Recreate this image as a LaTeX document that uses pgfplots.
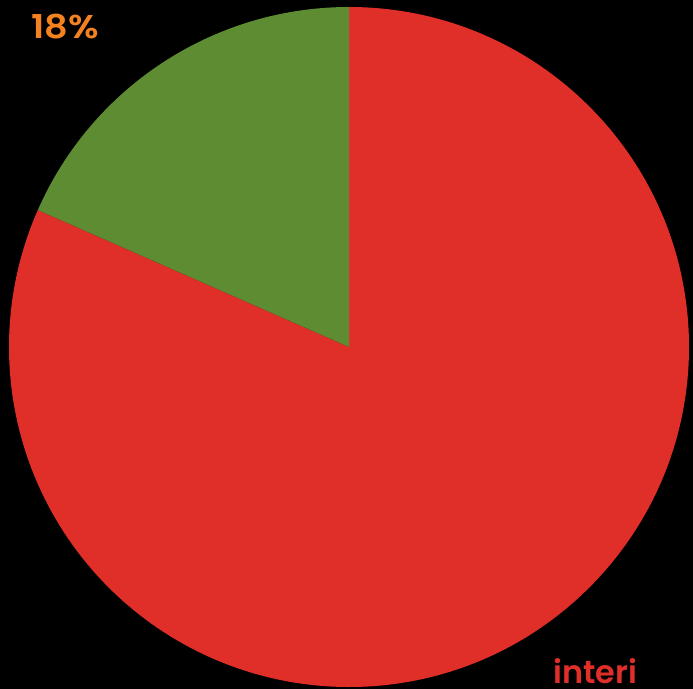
\documentclass[border=0pt]{standalone}
\usepackage{pgfplots}
\pgfplotsset{compat=1.18}
\usepackage{fontspec}
\setmainfont{Poppins}[BoldFont={* SemiBold}]
\definecolor{pieRed}{HTML}{E02F29}
\definecolor{pieGreen}{HTML}{5E8C33}
\definecolor{lblOrange}{HTML}{F58220}

% shares in percent
\def\shareA{18.4}  % green, labelled 18%
\def\shareB{81.6}  % red

\begin{document}
\begin{tikzpicture}
\begin{axis}[x=1bp,y=1bp,xmin=0,xmax=693,ymin=0,ymax=689,
  hide axis,clip=false,scale only axis]
\fill[black] (axis cs:0,0) rectangle (axis cs:693,689);
\pgfmathsetmacro{\angA}{90+\shareA*3.6}
\fill[pieRed] (axis cs:349,342) -- (axis cs:349,682)
  arc[start angle=90,end angle=\angA-360,radius=340bp] -- cycle;
\fill[pieGreen] (axis cs:349,342) -- (axis cs:349,682)
  arc[start angle=90,end angle=\angA,radius=340bp] -- cycle;
\node[anchor=base west,text=lblOrange,font=\bfseries\fontsize{33}{33}\selectfont,
  inner sep=0pt] at (axis cs:31,650) {\scalebox{1.12}[1]{18\%}};
\node[anchor=base west,text=pieRed,font=\bfseries\fontsize{32}{32}\selectfont,
  inner sep=0pt] at (axis cs:553,6) {interi};
\end{axis}
\pgfresetboundingbox
\path (0,0) rectangle (693bp,689bp);
\end{tikzpicture}
\end{document}
